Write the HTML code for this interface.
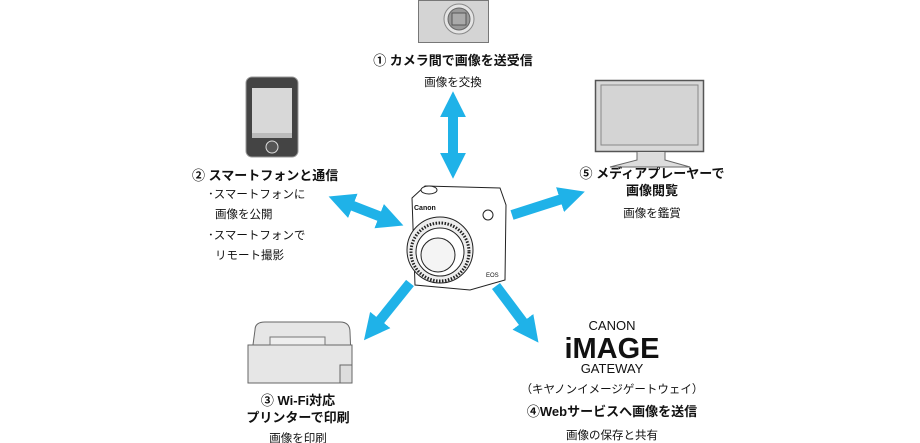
<!DOCTYPE html>
<html><head><meta charset="utf-8"><style>
body{margin:0;background:#fff}
svg{display:block}
text{font-family:"Liberation Sans","Noto Sans CJK JP",sans-serif;fill:#111}
.b{font-weight:bold;font-size:13px}
.s{font-size:11.5px}
</style></head><body>
<svg width="920" height="443" viewBox="0 0 920 443" xmlns="http://www.w3.org/2000/svg">
<defs>
<marker id="h" viewBox="0 0 10 10" refX="2" refY="5" markerWidth="2.6" markerHeight="2.6" orient="auto-start-reverse">
<path d="M0,0 L10,5 L0,10 z" fill="#1fb2e8"/></marker>
</defs>
<rect x="418.5" y="0.5" width="70" height="42" fill="#d4d4d4" stroke="#777"/>
<circle cx="459" cy="19" r="15" fill="#e4e4e4" stroke="#888"/>
<circle cx="459" cy="19" r="11" fill="#999" stroke="#666"/>
<rect x="452" y="13" width="14" height="12" fill="#aaa" stroke="#555"/>
<text class="b" x="453" y="65" text-anchor="middle">① カメラ間で画像を送受信</text>
<text class="s" x="453" y="86" text-anchor="middle">画像を交換</text>
<g stroke="#1fb2e8" stroke-width="10" fill="none">
<line x1="453" y1="112" x2="453" y2="158" marker-start="url(#h)" marker-end="url(#h)"/>
<line x1="348" y1="204" x2="384" y2="218" marker-start="url(#h)" marker-end="url(#h)"/>
<line x1="512" y1="215" x2="565" y2="198" marker-end="url(#h)"/>
<line x1="410" y1="283" x2="377" y2="324" marker-end="url(#h)"/>
<line x1="496" y1="286" x2="526" y2="326" marker-end="url(#h)"/>
</g>
<rect x="246" y="77" width="52" height="80" rx="6" fill="#444" stroke="#999"/>
<rect x="252" y="88" width="40" height="50" fill="#d8d8d8"/>
<rect x="252" y="133" width="40" height="5" fill="#bbb"/>
<circle cx="272" cy="147" r="6" fill="#555" stroke="#ddd"/>
<text class="b" x="192" y="180">② スマートフォンと通信</text>
<text class="s" x="208" y="198">･スマートフォンに</text>
<text class="s" x="215" y="218">画像を公開</text>
<text class="s" x="208" y="239">･スマートフォンで</text>
<text class="s" x="215" y="259">リモート撮影</text>
<rect x="595.5" y="80.5" width="108" height="71" fill="#d8d8d8" stroke="#555" stroke-width="1.5"/>
<rect x="601" y="85" width="97" height="60" fill="#d4d4d4" stroke="#888"/>
<path d="M637,152 L637,160 L610,167 L690,167 L665,160 L665,152" fill="#ddd" stroke="#666"/>
<text class="b" x="652" y="178" text-anchor="middle">⑤ メディアプレーヤーで</text>
<text class="b" x="652" y="195" text-anchor="middle">画像閲覧</text>
<text class="s" x="652" y="217" text-anchor="middle">画像を鑑賞</text>
<g stroke="#222" fill="#fff" stroke-width="1">
<path d="M412,198 L425,186 L500,188 L506,205 L505,280 L470,290 L415,285 Z"/>
<ellipse cx="429" cy="190" rx="8" ry="4"/>
<circle cx="440" cy="250" r="33" fill="#eee"/>
<circle cx="440" cy="252" r="29" fill="none" stroke-dasharray="1.5 1.5" stroke-width="3"/>
<circle cx="440" cy="252" r="24"/>
<circle cx="438" cy="255" r="17" fill="#f4f4f4"/>
<circle cx="488" cy="215" r="5"/>
</g>
<text x="414" y="210" font-size="7" font-weight="bold">Canon</text>
<text x="486" y="277" font-size="6">EOS</text>
<path d="M255,330 Q255,322 265,322 L340,322 Q350,322 350,332 L352,382 L248,382 Z" fill="#e6e6e6" stroke="#666"/>
<rect x="248" y="345" width="104" height="38" fill="#e6e6e6" stroke="#666"/>
<rect x="270" y="337" width="55" height="8" fill="#eee" stroke="#777"/>
<rect x="340" y="365" width="12" height="18" fill="#ddd" stroke="#666"/>
<text class="b" x="298" y="405" text-anchor="middle">③ Wi-Fi対応</text>
<text class="b" x="298" y="422" text-anchor="middle">プリンターで印刷</text>
<text class="s" x="298" y="442" text-anchor="middle">画像を印刷</text>
<text x="612" y="330" text-anchor="middle" font-size="13">CANON</text>
<text x="612" y="358" text-anchor="middle" font-size="29" font-weight="bold" letter-spacing="0">iMAGE</text>
<text x="612" y="373" text-anchor="middle" font-size="13">GATEWAY</text>
<text class="s" x="612" y="393" text-anchor="middle">（キヤノンイメージゲートウェイ）</text>
<text class="b" x="612" y="416" text-anchor="middle">④Webサービスへ画像を送信</text>
<text class="s" x="612" y="439" text-anchor="middle">画像の保存と共有</text>
</svg>
</body></html>
